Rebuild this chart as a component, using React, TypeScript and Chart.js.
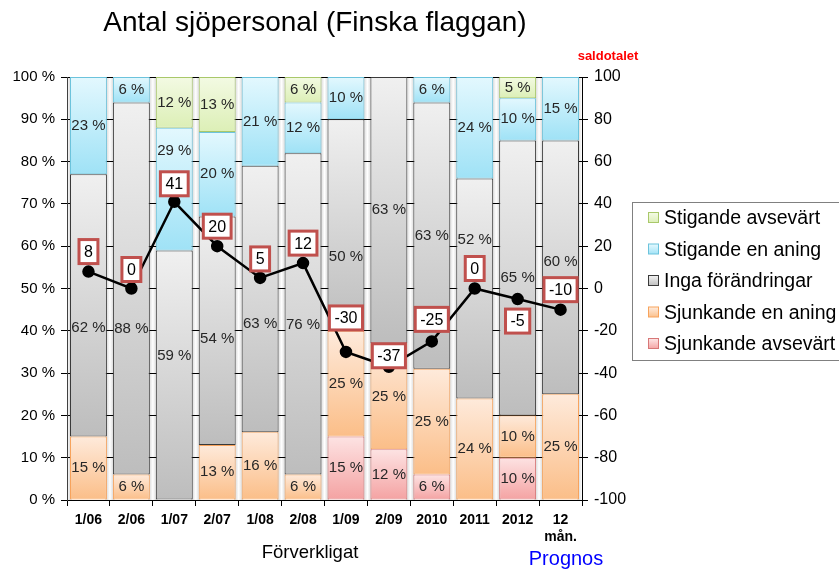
import React, { useEffect, useRef } from "react";
import { Chart, registerables } from "chart.js";

Chart.register(...registerables);

const categories: (string | string[])[] = ["1/06", "2/06", "1/07", "2/07", "1/08", "2/08", "1/09", "2/09", "2010", "2011", "2012", ["12", "mån."]];

const sjunkandeAvsevart = [0, 0, 0, 0, 0, 0, 15, 12, 6, 0, 10, 0];
const sjunkandeEnAning = [15, 6, 0, 13, 16, 6, 25, 25, 25, 24, 10, 25];
const ingaForandringar = [62, 88, 59, 54, 63, 76, 50, 63, 63, 52, 65, 60];
const stigandeEnAning = [23, 6, 29, 20, 21, 12, 10, 0, 6, 24, 10, 15];
const stigandeAvsevart = [0, 0, 12, 13, 0, 6, 0, 0, 0, 0, 5, 0];

const saldotalet = [8, 0, 41, 20, 5, 12, -30, -37, -25, 0, -5, -10];

const leftTicks = [0, 10, 20, 30, 40, 50, 60, 70, 80, 90, 100];
const rightTicks = [-100, -80, -60, -40, -20, 0, 20, 40, 60, 80, 100];

const FONT = '"Liberation Sans", Arial, sans-serif';
const NARROW = '"Liberation Sans Narrow", "Liberation Sans", Arial, sans-serif';

type SeriesStyle = { name: string; data: number[]; light: string; dark: string; border: string };

const series: SeriesStyle[] = [
  { name: "Sjunkande avsevärt", data: sjunkandeAvsevart, light: "#fde3e3", dark: "#f4a2a2", border: "#d77777" },
  { name: "Sjunkande en aning", data: sjunkandeEnAning, light: "#feeadb", dark: "#fbbe88", border: "#f7a35c" },
  { name: "Inga förändringar", data: ingaForandringar, light: "#f0f0f0", dark: "#bdbdbd", border: "#3a3a3a" },
  { name: "Stigande en aning", data: stigandeEnAning, light: "#e3f8fe", dark: "#9fe2f6", border: "#6cc3dc" },
  { name: "Stigande avsevärt", data: stigandeAvsevart, light: "#f3fae3", dark: "#dcefb6", border: "#a9c86a" },
];

// label nudges (px) relative to segment centre, per series index then category
const labelNudge: Record<number, number[]> = {
  2: [22, 40, -19, 8, 25, 11, 32, 0, 0, -49, 0, -5],
  3: [0, 0, -38, 0, 0, 0, 0, 0, 0, 0, 0, 0],
};
const saldoLabelOffset = [-20, -19, -18, -20, -19, -20, -34, -11, -22, -20, 22, -20];

export default function App() {
  const ref = useRef<HTMLCanvasElement | null>(null);

  useEffect(() => {
    const canvas = ref.current;
    if (!canvas) return;

    const barDatasets = series.map((s, k) => ({
      type: "bar" as const,
      label: s.name,
      data: s.data,
      yAxisID: "y",
      order: 1,
      borderColor: s.border,
      borderWidth: (c: any) => (c.type === "data" && !c.raw ? 0 : 1),
      borderSkipped: false,
      categoryPercentage: 1,
      barPercentage: 0.86,
      backgroundColor: (c: any) => {
        if (c.type !== "data") return s.dark;
        const chart = c.chart;
        const y = chart.scales && chart.scales.y;
        if (!y || !chart.chartArea) return s.dark;
        const i = c.dataIndex;
        let base = 0;
        for (let j = 0; j < k; j++) base += series[j].data[i];
        const top = base + s.data[i];
        const y0 = y.getPixelForValue(top);
        const y1 = y.getPixelForValue(base);
        if (!isFinite(y0) || !isFinite(y1) || y0 === y1) return s.dark;
        const g = chart.ctx.createLinearGradient(0, y0, 0, y1);
        g.addColorStop(0, s.light);
        g.addColorStop(1, s.dark);
        return g;
      },
    }));

    const lineDataset = {
      type: "line" as const,
      label: "saldotalet",
      data: saldotalet,
      yAxisID: "y2",
      order: 0,
      borderColor: "#000000",
      borderWidth: 2.5,
      pointRadius: 5,
      pointBackgroundColor: "#000000",
      pointBorderColor: "#000000",
      tension: 0,
    };

    const decorPlugin = {
      id: "decor",
      beforeDraw(chart: any) {
        const { ctx, chartArea } = chart;
        const x = chart.scales.x;
        ctx.save();
        const step = x.getPixelForValue(1) - x.getPixelForValue(0);
        for (let i = 0; i <= categories.length; i++) {
          const bx = x.getPixelForValue(0) + (i - 0.5) * step;
          const w = 9;
          const g = ctx.createLinearGradient(bx - w / 2, 0, bx + w / 2, 0);
          g.addColorStop(0, "#cfcfcf");
          g.addColorStop(0.5, "#ffffff");
          g.addColorStop(1, "#cfcfcf");
          ctx.fillStyle = g;
          const l = Math.max(chartArea.left, bx - w / 2);
          const r = Math.min(chartArea.right, bx + w / 2);
          ctx.fillRect(l, chartArea.top, r - l, chartArea.bottom - chartArea.top);
        }
        ctx.restore();
      },
      afterDatasetsDraw(chart: any) {
        const { ctx } = chart;
        ctx.save();
        // segment labels
        ctx.font = `15px ${FONT}`;
        ctx.fillStyle = "#262626";
        ctx.textAlign = "center";
        ctx.textBaseline = "middle";
        series.forEach((s, k) => {
          const meta = chart.getDatasetMeta(k);
          meta.data.forEach((el: any, i: number) => {
            const v = s.data[i];
            if (!v) return;
            const nudge = labelNudge[k] ? labelNudge[k][i] : 0;
            const cy = (el.y + el.base) / 2 + nudge;
            ctx.fillText(`${v} %`, el.x, cy);
          });
        });
        // saldo labels
        const lmeta = chart.getDatasetMeta(series.length);
        ctx.font = `16px ${FONT}`;
        lmeta.data.forEach((pt: any, i: number) => {
          const text = String(saldotalet[i]);
          const tw = ctx.measureText(text).width;
          const w = tw + 10;
          const h = 24;
          const cx = pt.x;
          const cy = pt.y + saldoLabelOffset[i];
          ctx.fillStyle = "#ffffff";
          ctx.fillRect(cx - w / 2, cy - h / 2, w, h);
          ctx.strokeStyle = "#c0504d";
          ctx.lineWidth = 3;
          ctx.strokeRect(cx - w / 2, cy - h / 2, w, h);
          ctx.fillStyle = "#000000";
          ctx.fillText(text, cx, cy + 1);
        });
        ctx.restore();
      },
      afterDraw(chart: any) {
        const { ctx } = chart;
        ctx.save();
        ctx.textAlign = "center";
        ctx.textBaseline = "middle";
        ctx.fillStyle = "#000000";
        ctx.font = `28px ${FONT}`;
        ctx.fillText("Antal sjöpersonal (Finska flaggan)", 315, 23);
        ctx.fillStyle = "#ff0000";
        ctx.font = `bold 13px ${FONT}`;
        ctx.fillText("saldotalet", 608, 56);
        ctx.fillStyle = "#000000";
        ctx.font = `18.5px ${FONT}`;
        ctx.fillText("Förverkligat", 310, 553);
        ctx.fillStyle = "#0000ff";
        ctx.font = `20px ${FONT}`;
        ctx.fillText("Prognos", 566, 559);

        // legend
        ctx.strokeStyle = "#808080";
        ctx.lineWidth = 1;
        ctx.fillStyle = "#ffffff";
        ctx.fillRect(632.5, 202.5, 230, 158);
        ctx.strokeRect(632.5, 202.5, 230, 158);
        const items = series.slice().reverse();
        ctx.textAlign = "left";
        ctx.font = `19.5px ${FONT}`;
        items.forEach((s, j) => {
          const cy = 218 + j * 31.5;
          const g = ctx.createLinearGradient(0, cy - 5, 0, cy + 5);
          g.addColorStop(0, s.light);
          g.addColorStop(1, s.dark);
          ctx.fillStyle = g;
          ctx.fillRect(648.5, cy - 5.5, 10, 10);
          ctx.strokeStyle = s.border;
          ctx.strokeRect(648.5, cy - 5.5, 10, 10);
          ctx.fillStyle = "#000000";
          ctx.fillText(s.name, 664, cy + 1);
        });
        ctx.restore();
      },
    };

    const chart = new Chart(canvas, {
      type: "bar",
      data: {
        labels: categories,
        datasets: [...barDatasets, lineDataset] as any,
      },
      options: {
        animation: false,
        responsive: false,
        maintainAspectRatio: false,
        layout: { padding: { top: 77, left: 0, right: 0, bottom: 0 } },
        plugins: {
          legend: { display: false },
          title: { display: false },
          tooltip: { enabled: false },
        },
        scales: {
          x: {
            stacked: true,
            grid: { drawOnChartArea: false, drawTicks: true, tickLength: 6, color: "#000000", offset: true },
            border: { display: true, color: "#000000" },
            ticks: {
              font: { family: NARROW, size: 14, weight: "bold", lineHeight: 1.2 },
              color: "#000000",
              padding: 6,
              maxRotation: 0,
              autoSkip: false,
            },
            afterFit: (s: any) => {
              s.height = 70;
            },
          },
          y: {
            stacked: true,
            position: "left",
            min: 0,
            max: 100,
            afterBuildTicks: (s: any) => {
              s.ticks = leftTicks.map((v) => ({ value: v }));
            },
            grid: { color: "#000000", tickLength: 6, drawOnChartArea: true },
            border: { display: true, color: "#404040" },
            ticks: {
              font: { family: FONT, size: 15 },
              color: "#000000",
              padding: 6,
              callback: (v: any) => `${v} %`,
            },
            afterFit: (s: any) => {
              s.width = 67;
            },
          },
          y2: {
            position: "right",
            min: -100,
            max: 100,
            afterBuildTicks: (s: any) => {
              s.ticks = rightTicks.map((v) => ({ value: v }));
            },
            grid: { drawOnChartArea: false, color: "#000000", tickLength: 6 },
            border: { display: true, color: "#000000" },
            ticks: {
              font: { family: FONT, size: 16 },
              color: "#000000",
              padding: 6,
            },
            afterFit: (s: any) => {
              s.width = 257;
            },
          },
        },
      } as any,
      plugins: [decorPlugin],
    });

    return () => {
      chart.destroy();
    };
  }, []);

  return (
    <div style={{ position: "absolute", left: 0, top: 0, width: 839, height: 570, background: "#ffffff" }}>
      <canvas ref={ref} width={839} height={570} style={{ width: 839, height: 570, display: "block" }} />
    </div>
  );
}
